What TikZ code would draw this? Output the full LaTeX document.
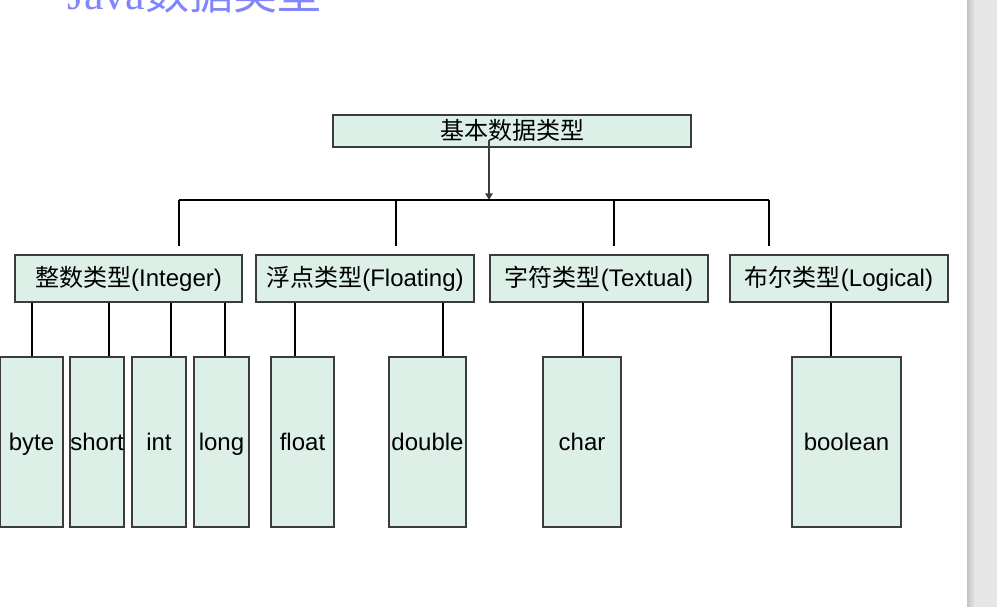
\documentclass[tikz,border=0pt]{standalone}
\usepackage{fontspec}
\setmainfont{Liberation Sans}
\newfontfamily\cjk{Noto Sans CJK SC}
\newfontfamily\titlefont{Liberation Serif}
\usetikzlibrary{arrows.meta}
\definecolor{boxfill}{RGB}{221,240,231}
\definecolor{boxline}{RGB}{60,60,60}
\definecolor{titleblue}{RGB}{128,134,255}
\definecolor{barfill}{RGB}{230,230,230}
\definecolor{baredge}{RGB}{196,196,196}
\tikzset{
  box/.style={draw=boxline, line width=1.1pt, fill=boxfill, inner sep=0pt,
    text height=15pt, text depth=2.5pt,
    font=\fontsize{18}{20}\selectfont},
  kind/.style={box, minimum height=35.25pt},
  prim/.style={box, minimum height=127.5pt},
  link/.style={line width=0.8pt}
}

\begin{document}
\begin{tikzpicture}[x=0.75pt, y=-0.75pt]
    \useasboundingbox (0,0) rectangle (997,607);
    \clip (0,0) rectangle (997,607);
    % grey bar on the right
    \fill[barfill] (967,0) rectangle (997,607);
    \shade[left color=baredge, right color=barfill] (967,0) rectangle (975,607);

    \node[anchor=base west, inner sep=0pt, text=titleblue,
      font=\fontsize{33}{36}\selectfont] (title) at (67,9)
      {\titlefont Java\cjk 数据类型};

    \node[box, minimum width=268.5pt, minimum height=24pt] (top) at (512,131)
      {\cjk 基本数据类型};

    \node[kind, minimum width=170.25pt] (integer) at (128.5,278.5) {{\cjk 整数类型}(Integer)};
    \node[kind, minimum width=163.5pt] (floating) at (365,278.5) {{\cjk 浮点类型}(Floating)};
    \node[kind, minimum width=163.5pt] (textual) at (599,278.5) {{\cjk 字符类型}(Textual)};
    \node[kind, minimum width=163.5pt] (logical) at (839,278.5) {{\cjk 布尔类型}(Logical)};

    \node[prim, minimum width=47.25pt] (byte) at (31.5,442) {byte};
    \node[prim, minimum width=40.5pt] (short) at (97,442) {short};
    \node[prim, minimum width=40.5pt] (int) at (159,442) {int};
    \node[prim, minimum width=41.25pt] (long) at (221.5,442) {long};
    \node[prim, minimum width=47.25pt] (float) at (302.5,442) {float};
    \node[prim, minimum width=57.75pt] (double) at (427.5,442) {double};
    \node[prim, minimum width=58.5pt] (char) at (582,442) {char};
    \node[prim, minimum width=81.75pt] (boolean) at (846.5,442) {boolean};

    \coordinate (src) at ([shift={(-23,9)}]top.center);
    \coordinate (tip) at (489,200);
    \coordinate (b1) at (179,200);
    \coordinate (b2) at (396,200);
    \coordinate (b3) at (614,200);
    \coordinate (b4) at (769,200);

    \draw[line width=1.1pt, draw=boxline, -{Triangle[width=5.5pt,length=5pt]}] (src) -- (tip);
    \draw[link] (b1) -- (b4);
    \draw[link, shorten >=6pt] (b1) -- (b1 |- integer.north);
    \draw[link, shorten >=6pt] (b2) -- (b2 |- floating.north);
    \draw[link, shorten >=6pt] (b3) -- (b3 |- textual.north);
    \draw[link, shorten >=6pt] (b4) -- (b4 |- logical.north);

    \draw[link] ([shift={(0.5,0)}]byte.north) coordinate (c1) -- (c1 |- integer.south);
    \draw[link] ([shift={(12,0)}]short.north) coordinate (c2) -- (c2 |- integer.south);
    \draw[link] ([shift={(12,0)}]int.north) coordinate (c3) -- (c3 |- integer.south);
    \draw[link] ([shift={(3.5,0)}]long.north) coordinate (c4) -- (c4 |- integer.south);
    \draw[link] ([shift={(-7.5,0)}]float.north) coordinate (c5) -- (c5 |- floating.south);
    \draw[link] ([shift={(15.5,0)}]double.north) coordinate (c6) -- (c6 |- floating.south);
    \draw[link] ([shift={(1,0)}]char.north) coordinate (c7) -- (c7 |- textual.south);
    \draw[link] ([shift={(-15.5,0)}]boolean.north) coordinate (c8) -- (c8 |- logical.south);
\end{tikzpicture}
\end{document}
